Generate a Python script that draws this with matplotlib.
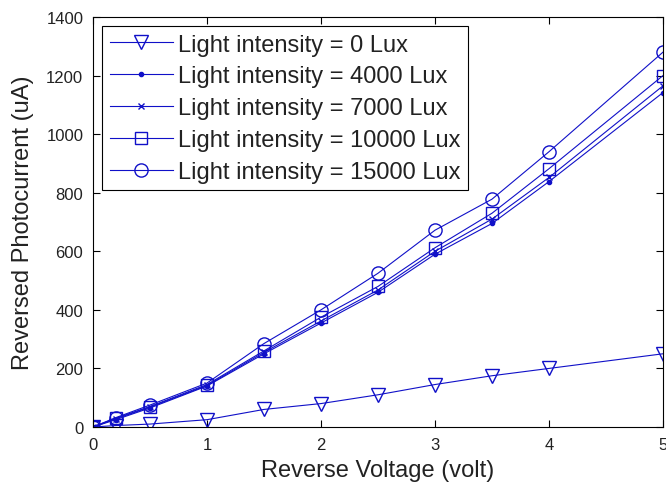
import matplotlib
matplotlib.use("Agg")
import matplotlib.pyplot as plt

plt.rcParams['font.family'] = ['Liberation Sans', 'DejaVu Sans']

voltage = [0, 0.2, 0.5, 1, 1.5, 2, 2.5, 3, 3.5, 4, 5]
lux_0 = [0, 5, 10, 25, 60, 80, 110, 145, 175, 200, 250]
lux_4000 = [0, 25, 65, 140, 250, 355, 460, 590, 695, 838, 1142]
lux_7000 = [0, 28, 68, 142, 255, 362, 468, 600, 710, 852, 1165]
lux_10000 = [0, 30, 70, 145, 260, 375, 480, 612, 730, 882, 1200]
lux_15000 = [0, 32, 75, 150, 285, 400, 525, 672, 778, 940, 1280]

labels = ["Light intensity = 0 Lux", "Light intensity = 4000 Lux",
          "Light intensity = 7000 Lux", "Light intensity = 10000 Lux",
          "Light intensity = 15000 Lux"]

col = "#1010c8"
txt = "#222222"
fig = plt.figure(figsize=(6.66, 4.89), dpi=100)
ax = fig.add_axes([93/666, 61/489, 570/666, 410/489])

ax.plot(voltage, lux_0, color=col, ls="-", marker="v", lw=0.8, mfc="none", ms=9.5, label=labels[0])
ax.plot(voltage, lux_4000, color=col, ls="-", marker=".", lw=0.8, ms=6, label=labels[1])
ax.plot(voltage, lux_7000, color=col, ls="-", marker="x", lw=0.8, ms=4, label=labels[2])
ax.plot(voltage, lux_10000, color=col, ls="-", marker="s", lw=0.8, mfc="none", ms=9, label=labels[3])
ax.plot(voltage, lux_15000, color=col, ls="-", marker="o", lw=0.8, mfc="none", ms=9.5, label=labels[4])

ax.set_xlim(0, 5)
ax.set_ylim(0, 1400)
ax.set_xticks([0, 1, 2, 3, 4, 5])
ax.set_yticks(range(0, 1401, 200))
ax.tick_params(direction="in", top=True, right=True, labelsize=12, length=5,
               labelcolor=txt)
ax.tick_params(axis="x", pad=7)
ax.tick_params(axis="y", pad=7)
ax.set_xlabel("Reverse Voltage (volt)", fontsize=17, labelpad=5, color=txt)
ax.set_ylabel("Reversed Photocurrent (uA)", fontsize=17, labelpad=9, color=txt)

leg = ax.legend(loc="upper left", fontsize=17, fancybox=False, edgecolor="black",
                framealpha=1, handlelength=2.7, handletextpad=0.2,
                borderaxespad=0.4, labelspacing=0.42, borderpad=0.3)
leg.get_frame().set_linewidth(0.8)
for t in leg.get_texts():
    t.set_color(txt)

fig.savefig("out.png", dpi=100)
